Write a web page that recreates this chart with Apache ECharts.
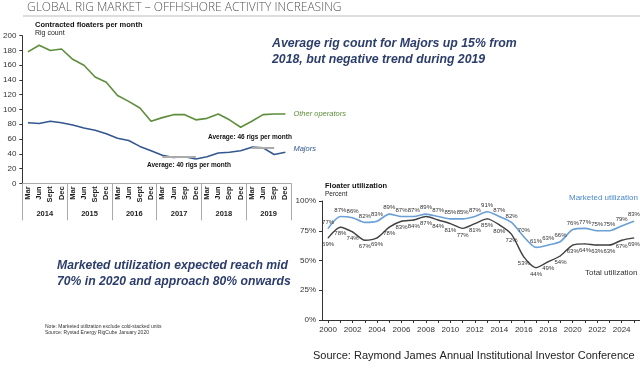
<!DOCTYPE html>
<html><head><meta charset="utf-8">
<script src="https://cdn.jsdelivr.net/npm/echarts@6/dist/echarts.min.js"></script>
<style>html,body{margin:0;padding:0;background:#fff}#c{width:640px;height:371px}</style>
</head><body><div id="c"></div>
<script>
// ---- Left chart: contracted floaters per month ----
const quarterLabels = ['Mar','Jun','Sept','Dec','Mar','Jun','Sept','Dec','Mar','Jun','Sept','Dec',
  'Mar','Jun','Sep','Dec','Mar','Jun','Sep','Dec','Mar','Jun','Sep','Dec'];
const yearLabels = ['2014','2015','2016','2017','2018','2019'];
const otherOperators = [178,187,180,182,168,160,144,137,119,111,102,84,89,93,93,86,88,94,86,76,84,93,94,94];
const majors = [82,81,84,82,79,75,72,67,61,58,50,44,38,35,36,33,36,41,42,44,49,48,39,42];
const avg2017 = {from: 12, to: 15, value: 36};
const avg2019 = {from: 19.6, to: 21.8, value: 48};
const rigTicks = {min: 0, max: 200, interval: 20};

// ---- Right chart: floater utilization ----
const utilYears = ['2000','2001','2002','2003','2004','2005','2006','2007','2008','2009','2010','2011','2012',
  '2013','2014','2015','2016','2017','2018','2019','2020','2021','2022','2023','2024','2025'];
const marketedUtil = [77,87,86,82,83,89,87,87,89,87,85,85,87,91,87,82,70,61,63,66,76,77,75,75,79,83];
const totalUtil = [69,78,74,67,69,78,83,84,87,84,81,77,81,85,80,72,53,44,49,54,63,64,63,63,67,69];
const utilTicks = {min: 0, max: 100, interval: 25};

const FONT = '"Liberation Sans", Arial, sans-serif';
const GREEN = '#5e8d3b', BLUE = '#33578f', LBLUE = '#6aa0d6', DARK = '#404040', NAVY = '#2b3d6b';

const chart = echarts.init(document.getElementById('c'), null, {renderer: 'canvas'});
const option = {
  animation: false,
  textStyle: {fontFamily: FONT},
  grid: [
    {left: 21, top: 35.7, width: 270, height: 147.6},
    {left: 322, top: 201, width: 318, height: 119}
  ],
  xAxis: [
    {gridIndex: 0, type: 'category', data: quarterLabels, boundaryGap: true,
     axisLine: {show: true, lineStyle: {color: '#aaa', width: 1}}, axisTick: {show: false},
     axisLabel: {rotate: 90, interval: 0, fontSize: 7.5, fontWeight: 'bold', color: '#222', margin: 3, fontFamily: FONT}},
    {gridIndex: 0, type: 'category', data: yearLabels, boundaryGap: true, position: 'bottom',
     axisLine: {show: false}, axisTick: {show: true, length: 37, lineStyle: {color: '#aaa'}},
     axisLabel: {fontSize: 7.5, fontWeight: 'bold', color: '#222', margin: 27, fontFamily: FONT}},
    {gridIndex: 1, type: 'category', data: utilYears, boundaryGap: true,
     axisLine: {show: true, lineStyle: {color: '#333', width: 1}},
     axisTick: {show: true, alignWithLabel: true, interval: 0, length: 3, lineStyle: {color: '#333'}},
     axisLabel: {interval: 1, fontSize: 8, color: '#333', margin: 6, fontFamily: FONT}}
  ],
  yAxis: [
    {gridIndex: 0, type: 'value', min: rigTicks.min, max: rigTicks.max, interval: rigTicks.interval,
     axisLine: {show: true, lineStyle: {color: '#333'}}, axisTick: {show: true, length: 3, lineStyle: {color: '#333'}},
     splitLine: {show: false}, axisLabel: {fontSize: 8, color: '#333', margin: 6, fontFamily: FONT}},
    {gridIndex: 1, type: 'value', min: utilTicks.min, max: utilTicks.max, interval: utilTicks.interval,
     axisLine: {show: true, lineStyle: {color: '#333'}}, axisTick: {show: true, length: 3, lineStyle: {color: '#333'}},
     splitLine: {show: false}, axisLabel: {formatter: '{value}%', fontSize: 8, color: '#333', margin: 6, fontFamily: FONT}}
  ],
  series: [
    {name: 'Other operators', type: 'line', xAxisIndex: 0, yAxisIndex: 0, data: otherOperators,
     symbol: 'none', lineStyle: {color: GREEN, width: 1.6},
     endLabel: {show: true, formatter: 'Other operators', color: GREEN, fontStyle: 'italic', fontSize: 7.5, distance: 8, fontFamily: FONT}},
    {name: 'Majors', type: 'line', xAxisIndex: 0, yAxisIndex: 0, data: majors,
     symbol: 'none', lineStyle: {color: BLUE, width: 1.6},
     endLabel: {show: true, formatter: 'Majors', color: BLUE, fontStyle: 'italic', fontSize: 7.5, distance: 8, offset: [0, -3], fontFamily: FONT},
     markLine: {silent: true, symbol: 'none', label: {show: false},
       lineStyle: {color: '#aaa', width: 2, type: 'solid'},
       data: [
         [{coord: [avg2017.from, avg2017.value]}, {coord: [avg2017.to, avg2017.value]}],
         [{coord: [avg2019.from, avg2019.value]}, {coord: [avg2019.to, avg2019.value]}]
       ]}},
    {name: 'Marketed utilization', type: 'line', xAxisIndex: 2, yAxisIndex: 1, data: marketedUtil,
     symbol: 'circle', symbolSize: 1, itemStyle: {color: LBLUE}, smooth: 0.25,
     lineStyle: {color: LBLUE, width: 1.6},
     label: {show: true, position: 'top', distance: 3, formatter: '{c}%', fontSize: 6, color: '#333', fontFamily: FONT}},
    {name: 'Total utilization', type: 'line', xAxisIndex: 2, yAxisIndex: 1, data: totalUtil,
     symbol: 'circle', symbolSize: 1, itemStyle: {color: DARK}, smooth: 0.25,
     lineStyle: {color: DARK, width: 1.4},
     label: {show: true, position: 'bottom', distance: 3, formatter: '{c}%', fontSize: 6, color: '#333', fontFamily: FONT}}
  ],
  graphic: [
    {type: 'text', left: 27, top: 2, style: {text: 'GLOBAL RIG MARKET – OFFHSHORE ACTIVITY INCREASING', fill: '#555', font: '300 12px "Open Sans", Lato, sans-serif'}},
    {type: 'line', shape: {x1: 23, y1: 16, x2: 640, y2: 16}, style: {stroke: '#bbb', lineWidth: 1}},
    {type: 'text', left: 35, top: 21, style: {text: 'Contracted floaters per month', fill: '#111', font: 'bold 7.5px ' + FONT}},
    {type: 'text', left: 35, top: 30, style: {text: 'Rig count', fill: '#222', font: '7px ' + FONT}},
    {type: 'text', left: 272, top: 36, style: {text: 'Average rig count for Majors up 15% from\n2018, but negative trend during 2019', fill: NAVY, font: 'italic bold 12.3px ' + FONT, lineHeight: 15.5}},
    {type: 'text', left: 208, top: 134, style: {text: 'Average: 46 rigs per month', fill: '#111', font: 'bold 6.5px ' + FONT}},
    {type: 'text', left: 147, top: 162, style: {text: 'Average: 40 rigs per month', fill: '#111', font: 'bold 6.5px ' + FONT}},
    {type: 'text', left: 57, top: 258, style: {text: 'Marketed utilization expected reach mid\n70% in 2020 and approach 80% onwards', fill: NAVY, font: 'italic bold 12.2px ' + FONT, lineHeight: 15.5}},
    {type: 'text', left: 45, top: 323, style: {text: 'Note: Marketed utilization exclude cold-stacked units\nSource: Rystad Energy RigCube January 2020', fill: '#333', font: '5px ' + FONT, lineHeight: 6.5}},
    {type: 'text', left: 325, top: 182, style: {text: 'Floater utilization', fill: '#111', font: 'bold 7.5px ' + FONT}},
    {type: 'text', left: 325, top: 191, style: {text: 'Percent', fill: '#222', font: '6.5px ' + FONT}},
    {type: 'text', left: 569, top: 194, style: {text: 'Marketed utilization', fill: '#4b89c8', font: '8px ' + FONT}},
    {type: 'text', left: 585, top: 269, style: {text: 'Total utilization', fill: '#333', font: '8px ' + FONT}},
    {type: 'text', left: 313, top: 350, style: {text: 'Source: Raymond James Annual Institutional Investor Conference', fill: '#222', font: '11px ' + FONT}}
  ]
};
chart.setOption(option);
</script></body></html>
